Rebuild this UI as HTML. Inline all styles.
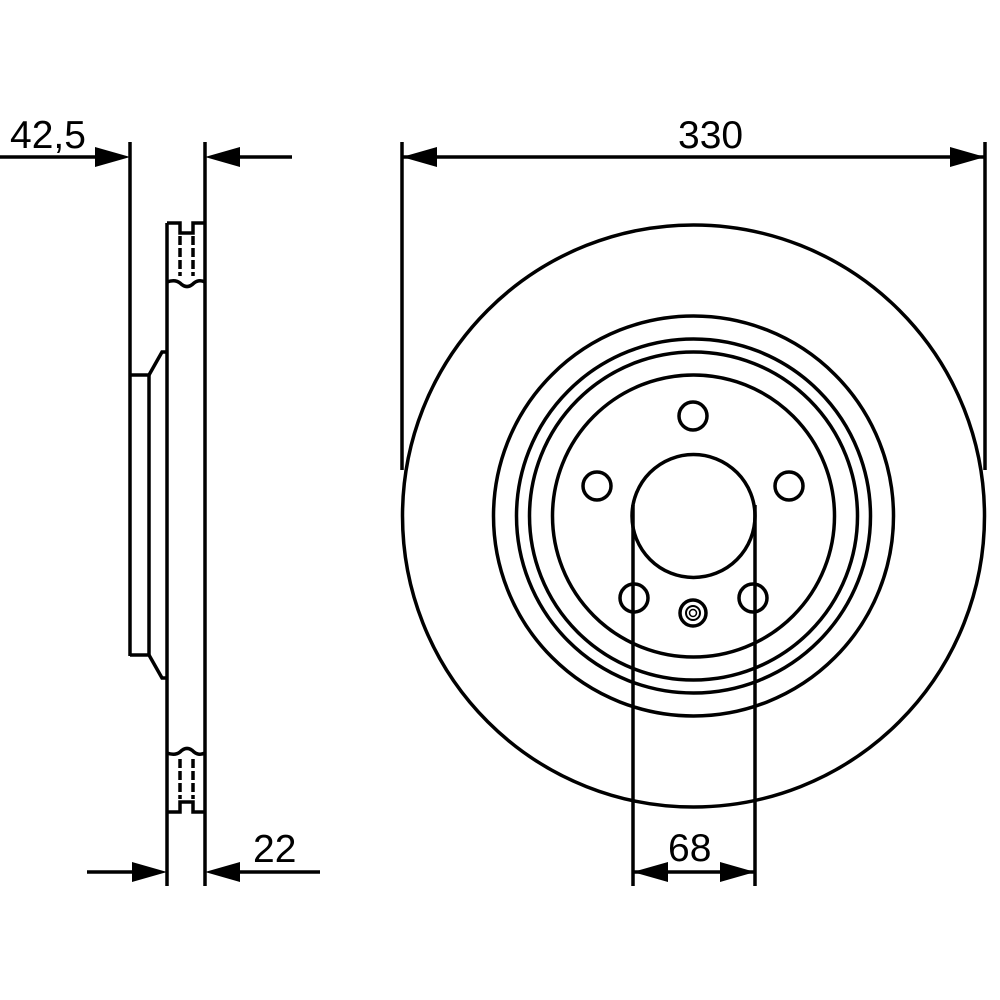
<!DOCTYPE html>
<html><head><style>html,body{margin:0;padding:0;background:#fff}svg{display:block}</style></head>
<body>
<svg width="1000" height="1000" viewBox="0 0 1000 1000" xmlns="http://www.w3.org/2000/svg">
<g fill="none" stroke="#000" stroke-width="3.5">
<line x1="130" y1="142" x2="130" y2="656"/>
<line x1="205" y1="142" x2="205" y2="886"/>
<line x1="167" y1="223" x2="167" y2="886"/>
<path d="M130 375 H149 L162 352 H167"/>
<path d="M130 655 H149 L162 678 H167"/>
<line x1="149" y1="375" x2="149" y2="655"/>
<path d="M167 223 H180 V233 H193 V223 H205"/>
<path d="M167 282 Q175 279 180 283 Q187 290 194 283 Q199 279 205 282"/>
<path d="M180 236 V276 M193 236 V276" stroke-dasharray="9 3"/>
<path d="M167 812 H180 V802 H193 V812 H205"/>
<path d="M167 753 Q175 756 180 752 Q187 745 194 752 Q199 756 205 753"/>
<path d="M180 759 V799 M193 759 V799" stroke-dasharray="9 3"/>
<line x1="0" y1="157" x2="100" y2="157"/>
<line x1="235" y1="157" x2="292" y2="157"/>
<line x1="87" y1="872" x2="137" y2="872"/>
<line x1="235" y1="872" x2="320" y2="872"/>
<circle cx="693.5" cy="516" r="291"/>
<circle cx="693.5" cy="516" r="200"/>
<circle cx="693.5" cy="516" r="177"/>
<circle cx="693.5" cy="516" r="164"/>
<circle cx="693.5" cy="516" r="141"/>
<circle cx="693.5" cy="516" r="61.5"/>
<circle cx="693" cy="416" r="14"/>
<circle cx="597" cy="486" r="14"/>
<circle cx="789" cy="486" r="14"/>
<circle cx="634" cy="598" r="14"/>
<circle cx="753" cy="598" r="14"/>
<circle cx="693" cy="613" r="13"/>
<circle cx="693" cy="613" r="7" stroke-width="2"/>
<circle cx="693" cy="613" r="3.5" stroke-width="1.5"/>
<line x1="402" y1="142" x2="402" y2="470"/>
<line x1="985" y1="142" x2="985" y2="470"/>
<line x1="402" y1="157" x2="985" y2="157"/>
<line x1="633" y1="505" x2="633" y2="886"/>
<line x1="755" y1="505" x2="755" y2="886"/>
<line x1="633" y1="872" x2="755" y2="872"/>
</g>
<g fill="#000">
<polygon points="130,157 95,147 95,167"/>
<polygon points="205,157 240,147 240,167"/>
<polygon points="167,872 132,862 132,882"/>
<polygon points="205,872 240,862 240,882"/>
<polygon points="402,157 437,147 437,167"/>
<polygon points="985,157 950,147 950,167"/>
<polygon points="633,872 668,862 668,882"/>
<polygon points="755,872 720,862 720,882"/>
</g>
<g font-family="Liberation Sans, sans-serif" font-size="39" fill="#000">
<text x="10" y="148">42,5</text>
<text x="678" y="148">330</text>
<text x="253" y="862">22</text>
<text x="668" y="861">68</text>
</g>
</svg>
</body></html>
